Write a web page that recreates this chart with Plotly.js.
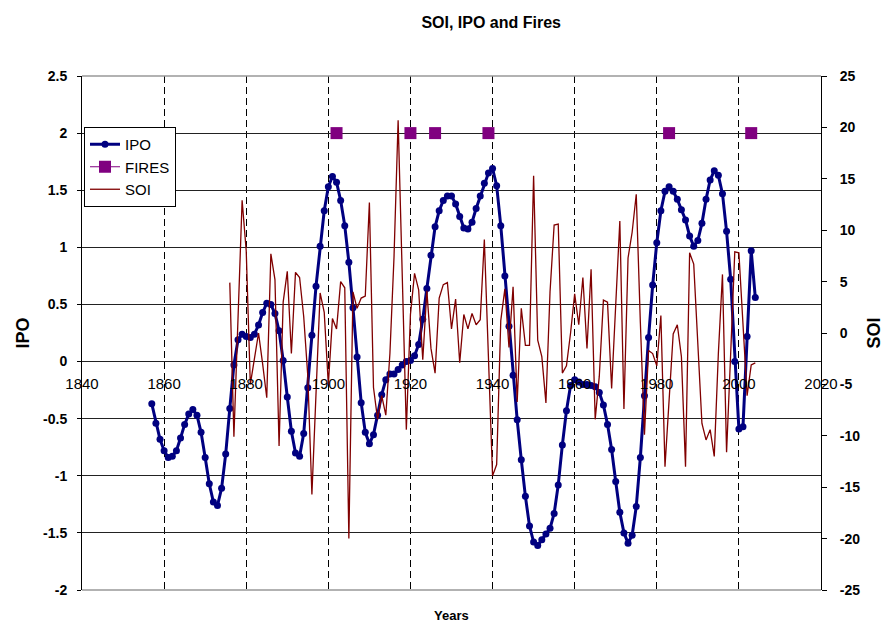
<!DOCTYPE html>
<html>
<head>
<meta charset="utf-8">
<script src="https://cdn.plot.ly/plotly-3.0.1.min.js"></script>
<style>
  html, body { margin: 0; padding: 0; background: #fff; }
  #chart { width: 885px; height: 622px; }
</style>
</head>
<body>
<div id="chart"></div>
<script>
// Interdecadal Pacific Oscillation, yearly from 1857
const ipoStartYear = 1857;
const ipoValues = [
  -0.37, -0.54, -0.68, -0.78, -0.84, -0.83, -0.78, -0.67, -0.55, -0.46,
  -0.42, -0.47, -0.62, -0.84, -1.07, -1.23, -1.26, -1.11, -0.81, -0.41,
  -0.03, 0.19, 0.24, 0.22, 0.21, 0.24, 0.32, 0.43, 0.51, 0.50,
  0.42, 0.27, 0.01, -0.31, -0.61, -0.80, -0.83, -0.63, -0.23, 0.23,
  0.66, 1.01, 1.32, 1.53, 1.62, 1.57, 1.41, 1.19, 0.87, 0.47,
  0.04, -0.36, -0.62, -0.72, -0.64, -0.47, -0.29, -0.16, -0.11, -0.11,
  -0.07, -0.03, 0.00, 0.01, 0.05, 0.15, 0.37, 0.64, 0.93, 1.18,
  1.32, 1.41, 1.45, 1.45, 1.38, 1.27, 1.17, 1.16, 1.22, 1.34,
  1.45, 1.56, 1.65, 1.69, 1.54, 1.19, 0.75, 0.31, -0.12, -0.51,
  -0.86, -1.18, -1.44, -1.58, -1.61, -1.56, -1.51, -1.46, -1.33, -1.08,
  -0.73, -0.43, -0.21, -0.16, -0.18, -0.20, -0.20, -0.21, -0.22, -0.27,
  -0.38, -0.55, -0.77, -1.05, -1.32, -1.50, -1.59, -1.52, -1.27, -0.84,
  -0.30, 0.21, 0.67, 1.04, 1.32, 1.49, 1.53, 1.49, 1.42, 1.33,
  1.24, 1.10, 1.01, 1.06, 1.21, 1.42, 1.59, 1.67, 1.63, 1.47,
  1.14, 0.72, 0.00, -0.59, -0.57, 0.22, 0.97, 0.56
];

// Southern Oscillation Index, yearly from 1876
const soiStartYear = 1876;
const soiValues = [
  4.9, -10.1, 1.4, 12.9, 8.0, -5.0, -2.5, 0.0, -3.0, -6.3,
  7.7, 5.2, -11.0, 3.0, 6.0, -2.0, 5.9, 5.4, 1.6, -4.2,
  -15.7, -5.0, 3.9, 2.0, -5.0, 1.4, 0.4, 5.0, 4.4, -20.0,
  4.0, 2.4, 3.4, 3.6, 12.7, -5.3, -8.4, -6.1, -8.0, -2.0,
  7.4, 20.7, 4.4, -9.4, 1.8, 5.8, 4.2, -2.6, 4.1, -1.5,
  -3.9, 3.4, 4.7, 4.9, 0.4, 3.3, -2.9, 1.8, 0.4, 1.9,
  0.8, 1.3, 9.1, -2.0, -13.9, -12.8, 1.2, 4.3, -1.4, 4.5,
  -6.7, 2.4, -1.2, -1.2, 15.3, -0.7, -2.3, -6.8, 4.0, 10.5,
  10.6, -3.9, -3.2, 0.0, 3.8, 0.8, 5.4, -1.5, 6.2, -8.4,
  -4.2, 3.2, 3.0, -5.4, 3.2, 10.9, -7.4, 7.3, 9.8, 13.5,
  1.0, -9.9, -1.7, -2.0, -3.2, 1.7, -13.0, -7.0, -0.1, 0.8,
  -2.3, -13.0, 7.8, 6.7, -1.6, -8.8, -10.4, -9.4, -12.0, -2.0,
  5.7, -11.6, -2.0, 7.9, 7.8, 0.5, -6.1, -3.1, -2.9
];

// Major fire years, marked on the IPO scale
const fireYears = [1902, 1920, 1926, 1939, 1983, 2003];
const fireLevel = 2;

// Axis tick labels
const ipoTicks = [-2, -1.5, -1, -0.5, 0, 0.5, 1, 1.5, 2, 2.5];
const ipoTickText = ['-2', '-1.5', '-1', '-0.5', '0', '0.5', '1', '1.5', '2', '2.5'];
const soiTicks = [-25, -20, -15, -10, -5, 0, 5, 10, 15, 20, 25];
const soiTickText = ['-25', '-20', '-15', '-10', '-5', '0', '5', '10', '15', '20', '25'];

const ipoYears = ipoValues.map((_, i) => ipoStartYear + i);
const soiYears = soiValues.map((_, i) => soiStartYear + i);

// Fire points separated by gaps so no segments join them
const fireX = [], fireY = [];
fireYears.forEach((yr, i) => {
  if (i > 0) { fireX.push(yr); fireY.push(null); }
  fireX.push(yr); fireY.push(fireLevel);
});

const FONT = 'Liberation Sans, Arial, Helvetica, sans-serif';

const traces = [
  {
    name: 'IPO', x: ipoYears, y: ipoValues, type: 'scatter', mode: 'lines+markers',
    xaxis: 'x', yaxis: 'y',
    line: { color: '#000080', width: 3 },
    marker: { color: '#000080', size: 7, symbol: 'circle' },
    legendrank: 1
  },
  {
    name: 'FIRES', x: fireX, y: fireY, type: 'scatter', mode: 'lines+markers',
    xaxis: 'x', yaxis: 'y', connectgaps: false,
    line: { color: '#800080', width: 1 },
    marker: { color: '#800080', size: 12, symbol: 'square' },
    legendrank: 2
  },
  {
    name: 'SOI', x: soiYears, y: soiValues, type: 'scatter', mode: 'lines',
    xaxis: 'x', yaxis: 'y2',
    line: { color: '#800000', width: 1.3 },
    legendrank: 3
  }
];

const layout = {
  width: 885, height: 622,
  margin: { l: 82, r: 64, t: 76, b: 32 },
  paper_bgcolor: '#fff', plot_bgcolor: '#fff',
  font: { family: FONT, color: '#000' },
  showlegend: true,
  title: {
    text: '<b>SOI, IPO and Fires</b>',
    font: { family: FONT, size: 16, color: '#000' },
    xref: 'container', x: 0.555, xanchor: 'center',
    yref: 'container', y: 1 - 22 / 622, yanchor: 'middle'
  },
  xaxis: {
    range: [1840, 2020], tickmode: 'linear', tick0: 1840, dtick: 20,
    showgrid: true, gridcolor: '#000', gridwidth: 1, griddash: '7px,4px',
    zeroline: false, showline: false, ticks: '',
    anchor: 'free', position: 228 / 514,
    ticklabelstandoff: 11,
    tickfont: { family: FONT, size: 15, color: '#000' },
    fixedrange: true
  },
  yaxis: {
    range: [-2, 2.5], tickmode: 'array', tickvals: ipoTicks, ticktext: ipoTickText,
    showgrid: true, gridcolor: '#222', gridwidth: 1,
    zeroline: false, showline: true, linecolor: '#000', linewidth: 1,
    ticks: 'outside', ticklen: 4, tickcolor: '#000',
    ticklabelstandoff: 7,
    tickfont: { family: FONT, size: 14, color: '#000', weight: 'bold' },
    title: { text: '<b>IPO</b>', font: { family: FONT, size: 18, color: '#000' }, standoff: 8 },
    fixedrange: true
  },
  yaxis2: {
    overlaying: 'y', side: 'right', anchor: 'x',
    range: [-25, 25], tickmode: 'array', tickvals: soiTicks, ticktext: soiTickText,
    showgrid: false, zeroline: false, showline: true, linecolor: '#000', linewidth: 1,
    ticks: 'outside', ticklen: 5, tickcolor: '#000',
    ticklabelstandoff: 10,
    tickfont: { family: FONT, size: 14, color: '#000', weight: 'bold' },
    title: { text: '<b>SOI</b>', font: { family: FONT, size: 18, color: '#000' }, standoff: 8 },
    fixedrange: true
  },
  legend: {
    x: 2 / 739, y: 463 / 514, xanchor: 'left', yanchor: 'top',
    bgcolor: '#fff', bordercolor: '#000', borderwidth: 1,
    font: { family: FONT, size: 15, color: '#000' },
    itemwidth: 30, tracegroupgap: 0
  },
  annotations: [
    {
      text: '<b>Years</b>', xref: 'paper', yref: 'paper',
      x: 0.5, y: -25 / 514, xanchor: 'center', yanchor: 'middle',
      showarrow: false, font: { family: FONT, size: 13, color: '#000' }
    }
  ],
  shapes: [
    { type: 'line', xref: 'paper', yref: 'paper', x0: 0, x1: 1, y0: 1, y1: 1,
      line: { color: '#999', width: 1.5 }, layer: 'above' },
    { type: 'line', xref: 'paper', yref: 'paper', x0: 0, x1: 1, y0: 0, y1: 0,
      line: { color: '#999', width: 1.5 }, layer: 'above' }
  ]
};

Plotly.newPlot('chart', traces, layout, { displayModeBar: false, staticPlot: true });
</script>
</body>
</html>
